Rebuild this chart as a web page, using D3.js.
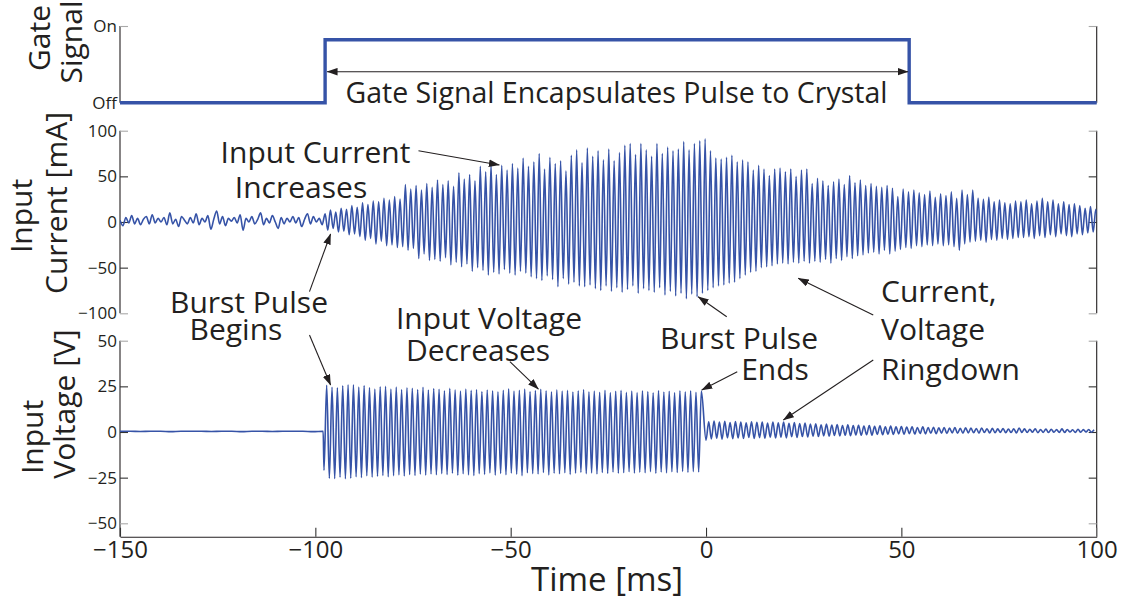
<!DOCTYPE html>
<html>
<head>
<meta charset="utf-8">
<script src="https://cdn.jsdelivr.net/npm/d3@7"></script>
<style>
  body { margin: 0; background: #fff; }
  svg text { font-family: "Open Sans", "DejaVu Sans", sans-serif; fill: #231f20; }
</style>
</head>
<body>
<svg id="chart" width="1130" height="602"></svg>
<script>
// ---------------- data ----------------
const timeTicks = [-150, -100, -50, 0, 50, 100];
const gateTicks = [0, 1];
const gateTickLabels = ["Off", "On"];
const currentTicks = [-100, -50, 0, 50, 100];
const voltageTicks = [-50, -25, 0, 25, 50];

// gate signal (0 = off, 1 = on)
const gateTimes  = [-150, -97.5, -97.5, 52, 52, 100];
const gateLevels = [0, 0, 0.82, 0.82, 0, 0];

// drive / ringdown period in ms
const carrierPeriod = 1.37;

// input current, mA: idle noise sampled every 0.75 ms
const currentNoiseStart = -150;
const currentNoiseStep = 0.75;
const currentNoise = [
  2, -4, 5, -1, 7, -2, 4, -3, 3, 6,
  -2, 8, -1, 4, 0, 5, -3, 10, -2, 3,
  -5, 6, 2, -2, 5, -1, 9, -3, 4, 0,
  7, -8, 3, 12, -2, 6, -4, 4, 1, 5,
  -1, 8, -9, 4, 0, 6, -2, 3, 10, -3,
  4, -1, 7, 0, -7, 5, -2, 4, 0, 6,
  -1, 5, -5, 3, 9, -2, 6, 0, 4, -3
];
// input current, mA: per-cycle maxima and minima from burst start
const currentBurstStart = -97.5;
const currentPeaks = [
  9, 13, 11, 15, 14, 18, 16, 21, 19, 23,
  22, 26, 24, 28, 25, 41, 36, 40, 35, 42,
  38, 46, 41, 45, 39, 54, 47, 52, 45, 61,
  55, 63, 52, 62, 57, 64, 59, 70, 61, 66,
  75, 58, 71, 64, 67, 56, 73, 79, 65, 81,
  72, 78, 68, 80, 67, 76, 84, 86, 74, 86,
  79, 72, 86, 75, 82, 78, 80, 88, 79, 86,
  89, 91, 78, 70, 69, 71, 73, 66, 68, 66,
  57, 62, 58, 51, 58, 59, 55, 58, 50, 57,
  58, 42, 48, 45, 40, 44, 47, 41, 51, 43,
  46, 40, 42, 39, 38, 40, 37, 28, 36, 33,
  35, 32, 30, 34, 27, 31, 29, 33, 26, 35,
  30, 35, 26, 25, 27, 22, 24, 21, 20, 23,
  22, 24, 20, 23, 26, 22, 24, 20, 22, 19,
  20, 18, 15, 17, 14
];
const currentTroughs = [
  -9, -7, -11, -10, -14, -13, -16, -20, -18, -24,
  -21, -26, -25, -28, -27, -31, -29, -40, -35, -42,
  -41, -43, -39, -47, -44, -49, -46, -54, -50, -53,
  -58, -55, -57, -52, -56, -58, -54, -56, -60, -62,
  -64, -59, -63, -71, -62, -68, -66, -70, -71, -69,
  -73, -75, -70, -76, -72, -77, -74, -70, -78, -73,
  -75, -77, -72, -80, -76, -81, -78, -84, -79, -82,
  -78, -75, -72, -70, -69, -67, -66, -62, -58, -55,
  -54, -50, -49, -48, -46, -45, -46, -44, -45, -43,
  -45, -43, -44, -41, -45, -40, -42, -38, -40, -37,
  -36, -34, -33, -35, -31, -35, -32, -30, -28, -29,
  -26, -27, -25, -26, -24, -26, -25, -27, -31, -24,
  -22, -21, -20, -22, -19, -20, -18, -19, -18, -17,
  -17, -16, -18, -15, -17, -14, -16, -13, -15, -16,
  -13, -14, -12, -11, -10
];

// input voltage, V: idle level sampled every 2.6 ms
const voltageIdleStart = -150;
const voltageIdleStep = 2.6;
const voltageIdle = [
  0.4, 0.4, 0.3, 0.4, 0.4, 0.2, 0.4, 0.4, 0.4, 0.3,
  0.4, 0.4, 0.2, 0.4, 0.4, 0.3, 0.4, 0.4, 0.4, 0.2, 0.4
];
// input voltage, V: per-cycle maxima / minima during the burst
const voltageBurstStart = -97.1;
const voltagePeaks = [
  25.6, 24.5, 24.2, 25.3, 25.8, 25.8, 24.6, 25.5, 24.3, 23.5,
  24.8, 25.0, 23.5, 24.6, 23.2, 24.2, 24.0, 23.3, 24.5, 23.0,
  23.8, 23.4, 22.6, 23.9, 23.1, 22.4, 23.5, 22.8, 23.2, 22.2,
  23.0, 22.5, 22.0, 22.9, 23.6, 22.4, 22.9, 23.5, 22.1, 22.7,
  23.4, 22.6, 22.0, 23.1, 22.4, 22.8, 21.9, 22.6, 23.2, 22.0,
  22.4, 21.8, 22.9, 21.6, 22.3, 22.8, 21.7, 22.4, 21.6, 22.5,
  22.1, 21.5, 22.7, 21.9, 22.3, 21.6, 22.6, 22.0, 22.6, 21.8, 22.4
];
const voltageTroughs = [
  -21.0, -25.4, -25.5, -24.8, -25.6, -25.3, -24.5, -24.9, -24.0, -24.7,
  -24.3, -23.8, -24.5, -23.9, -23.5, -24.1, -23.3, -23.8, -23.1, -23.6,
  -23.0, -23.4, -22.8, -23.3, -22.6, -23.7, -22.9, -23.5, -23.8, -22.8,
  -23.2, -22.4, -23.6, -22.7, -23.4, -22.5, -23.1, -23.9, -22.3, -22.8,
  -23.0, -22.2, -23.5, -22.6, -22.9, -22.3, -23.2, -22.5, -22.1, -22.8,
  -22.4, -23.0, -22.2, -22.7, -21.9, -22.6, -22.3, -21.8, -22.5, -22.0,
  -22.3, -21.7, -22.6, -21.9, -22.4, -21.8, -22.2, -21.6, -22.1, -21.7, -21.9
];
// input voltage, V: per-cycle maxima / minima after the burst ends
const ringdownStart = 0.0;
const ringdownPeaks = [
  5.6, 6.0, 5.4, 5.8, 5.2, 5.7, 5.5, 5.0, 5.6, 5.3,
  5.4, 4.9, 5.5, 5.1, 5.4, 4.8, 5.2, 4.6, 4.9, 4.3,
  4.5, 4.0, 4.3, 3.8, 4.1, 3.6, 3.9, 3.5, 3.7, 3.3,
  3.6, 3.1, 3.4, 2.9, 3.2, 2.8, 3.0, 2.7, 2.9, 2.5,
  2.8, 2.4, 2.6, 2.3, 2.5, 2.1, 2.4, 2.0, 2.3, 2.1,
  1.9, 2.2, 1.8, 2.0, 1.7, 1.9, 1.6, 1.8, 2.2, 1.7,
  1.5, 1.8, 1.4, 1.6, 1.5, 1.3, 1.7, 1.4, 1.2, 1.5, 1.3, 1.4, 1.2
];
const ringdownTroughs = [
  -4.5, -3.8, -3.4, -3.9, -3.2, -3.7, -3.3, -3.6, -3.0, -3.5,
  -3.1, -3.4, -2.9, -3.3, -2.8, -3.2, -2.6, -3.0, -2.5, -2.7,
  -2.3, -2.5, -2.1, -2.3, -1.9, -2.1, -1.8, -2.0, -1.6, -1.8,
  -1.5, -1.7, -1.3, -1.5, -1.2, -1.3, -1.0, -1.2, -0.9, -1.1,
  -0.8, -1.0, -0.7, -0.9, -0.6, -0.8, -0.5, -0.7, -0.6, -0.5,
  -0.4, -0.6, -0.3, -0.5, -0.4, -0.2, -0.4, -0.3, -0.5, -0.2,
  -0.3, -0.1, -0.4, -0.2, -0.3, -0.1, -0.2, -0.3, 0.0, -0.2, -0.1, 0.0, -0.1
];

// annotation arrows, [time ms, value] tail -> head
const currentArrows = [
  [[-73.6, 78.1], [-52.9, 62.4]],
  [[-101.5, -76.3], [-96.1, -13.1]],
  [[5.3, -103.7], [-2.0, -81.8]],
  [[42.8, -101.9], [23.6, -61.7]]
];
const voltageArrows = [
  [[-101.5, 53.1], [-96.1, 25.7]],
  [[-50.2, 38.5], [-42.9, 23.5]],
  [[8.0, 33.0], [-1.1, 23.0]],
  [[42.8, 39.4], [19.8, 6.6]]
];
const gateSpan = [-97.0, 51.7, 0.404];

// ---------------- layout ----------------
const W = 1130, H = 602;
const plotLeft = 120, plotRight = 1096.7;
const gateBox = [26, 102.7];
const currentBox = [130.7, 313.3];
const voltageBox = [340.7, 523.3];
const xAxisY = 536.7;
const traceColor = "#3653a7";
const ink = "#231f20";

const svg = d3.select("#chart");

const x = d3.scaleLinear().domain([-150, 100]).range([plotLeft, plotRight]);
const yGate = d3.scaleLinear().domain([0, 1]).range([gateBox[1], gateBox[0]]);
const yCur = d3.scaleLinear().domain([-100, 100]).range([currentBox[1], currentBox[0]]);
const yVolt = d3.scaleLinear().domain([-50, 50]).range([voltageBox[1], voltageBox[0]]);

// arrowhead marker
const defs = svg.append("defs");
defs.append("marker")
  .attr("id", "head")
  .attr("viewBox", "0 -4 11 8")
  .attr("refX", 10.5).attr("refY", 0)
  .attr("markerUnits", "userSpaceOnUse")
  .attr("markerWidth", 11).attr("markerHeight", 8)
  .attr("orient", "auto-start-reverse")
  .append("path").attr("d", "M0,-3.8L11,0L0,3.8Z").attr("fill", ink);

defs.append("clipPath").attr("id", "plotClip")
  .append("rect").attr("x", plotLeft).attr("y", 0)
  .attr("width", plotRight - plotLeft).attr("height", H);

// ---------------- axes ----------------
function drawPanelAxes(y, ticks, fmt, bottom) {
  const top = y.range()[1];
  const g = svg.append("g");
  // frame lines (left and right)
  [plotLeft, plotRight].forEach(px => {
    g.append("line").attr("x1", px).attr("x2", px)
      .attr("y1", top).attr("y2", bottom)
      .attr("stroke", ink).attr("stroke-width", 1.1);
  });
  const ends = d3.extent(ticks);
  const left = g.append("g").attr("transform", `translate(${plotLeft},0)`)
    .call(d3.axisLeft(y).tickValues(ticks).tickSize(-8).tickPadding(3).tickFormat(fmt));
  const right = g.append("g").attr("transform", `translate(${plotRight},0)`)
    .call(d3.axisRight(y).tickValues(ticks).tickSize(-8).tickFormat(""));
  [left, right].forEach(a => {
    a.select(".domain").remove();
    a.selectAll(".tick line")
      .attr("stroke", d => (d === ends[0] || d === ends[1]) ? "#a9a9a9" : "#333")
      .attr("stroke-width", 1.1);
  });
  left.selectAll(".tick text")
    .style("font-family", '"Open Sans", sans-serif')
    .style("font-size", "17px").attr("fill", ink);
}

drawPanelAxes(yGate, gateTicks, d => gateTickLabels[d], gateBox[1]);
drawPanelAxes(yCur, currentTicks, d3.format("d"), currentBox[1]);
drawPanelAxes(yVolt, voltageTicks, d3.format("d"), xAxisY);

const xa = svg.append("g").attr("transform", `translate(0,${xAxisY})`)
  .call(d3.axisBottom(x).tickValues(timeTicks).tickSize(-9).tickSizeOuter(0).tickPadding(4.6).tickFormat(d3.format("d")));
xa.select(".domain").attr("stroke", ink).attr("stroke-width", 1.1);
xa.selectAll(".tick line").attr("stroke", d => d === 100 ? "#a9a9a9" : "#333").attr("stroke-width", 1.1);
xa.selectAll(".tick text")
  .style("font-family", '"Open Sans", sans-serif')
  .style("font-size", "24px").attr("fill", ink);

// ---------------- traces ----------------
const traces = svg.append("g").attr("clip-path", "url(#plotClip)");

const currentSeries = [];
currentNoise.forEach((v, i) => currentSeries.push([currentNoiseStart + i * currentNoiseStep, v]));
currentPeaks.forEach((p, k) => {
  currentSeries.push([currentBurstStart + k * carrierPeriod, p]);
  currentSeries.push([currentBurstStart + (k + 0.5) * carrierPeriod, currentTroughs[k]]);
});

const voltageSeries = [];
voltageIdle.forEach((v, i) => voltageSeries.push([voltageIdleStart + i * voltageIdleStep, v]));
voltagePeaks.forEach((p, k) => {
  voltageSeries.push([voltageBurstStart + (k - 0.5) * carrierPeriod, voltageTroughs[k]]);
  voltageSeries.push([voltageBurstStart + k * carrierPeriod, p]);
});
ringdownPeaks.forEach((p, k) => {
  voltageSeries.push([ringdownStart + k * carrierPeriod, ringdownTroughs[k]]);
  voltageSeries.push([ringdownStart + (k + 0.5) * carrierPeriod, p]);
});

const gateSeries = gateTimes.map((t, i) => [t, gateLevels[i]]);

traces.append("path").datum(currentSeries)
  .attr("fill", "none").attr("stroke", traceColor).attr("stroke-width", 1.6)
  .attr("stroke-linejoin", "round")
  .attr("d", d3.line().x(d => x(d[0])).y(d => yCur(d[1])).curve(d3.curveMonotoneX));

traces.append("path").datum(voltageSeries)
  .attr("fill", "none").attr("stroke", traceColor).attr("stroke-width", 1.6)
  .attr("stroke-linejoin", "round")
  .attr("d", d3.line().x(d => x(d[0])).y(d => yVolt(d[1])).curve(d3.curveMonotoneX));

svg.append("path").datum(gateSeries)
  .attr("fill", "none").attr("stroke", traceColor).attr("stroke-width", 3.4)
  .attr("stroke-linejoin", "miter")
  .attr("d", d3.line().x(d => x(d[0])).y(d => yGate(d[1])));

// ---------------- annotations ----------------
const ann = svg.append("g");
function arrow(y, a) {
  ann.append("line")
    .attr("x1", x(a[0][0])).attr("y1", y(a[0][1]))
    .attr("x2", x(a[1][0])).attr("y2", y(a[1][1]))
    .attr("stroke", ink).attr("stroke-width", 1.1)
    .attr("marker-end", "url(#head)");
}
currentArrows.forEach(a => arrow(yCur, a));
voltageArrows.forEach(a => arrow(yVolt, a));
ann.append("line")
  .attr("x1", x(gateSpan[0])).attr("x2", x(gateSpan[1]))
  .attr("y1", yGate(gateSpan[2])).attr("y2", yGate(gateSpan[2]))
  .attr("stroke", ink).attr("stroke-width", 1.1)
  .attr("marker-start", "url(#head)").attr("marker-end", "url(#head)");

// multi-line note: one text element, one tspan per line [text, x, baseline]
function note(lines, size, anchor) {
  const t = ann.append("text")
    .attr("text-anchor", anchor || "middle")
    .style("font-size", size + "px");
  lines.forEach(l => t.append("tspan").attr("x", l[1]).attr("y", l[2]).text(l[0]));
}
note([["Gate Signal Encapsulates Pulse to Crystal", 616.5, 103]], 28.5);
note([["Input Current", 315.5, 163.3], ["Increases", 301, 198.3]], 30);
note([["Burst Pulse", 249, 313], ["Begins", 236, 340]], 30);
note([["Input Voltage", 489, 329.3], ["Decreases", 478, 360.7]], 30);
note([["Burst Pulse", 739, 349.3], ["Ends", 775, 380]], 30);
note([["Current,", 881, 301.7], ["Voltage", 881, 340], ["Ringdown", 881, 380]], 30, "start");

// axis titles
function vlabel(txt, bx, cy) {
  ann.append("text").attr("transform", `translate(${bx},${cy}) rotate(-90)`)
    .attr("text-anchor", "middle").style("font-size", "30px").text(txt);
}
vlabel("Gate", 50, 38);
vlabel("Signal", 82, 42);
vlabel("Input", 32, 216);
vlabel("Current [mA]", 67, 203);
vlabel("Input", 43, 437);
vlabel("Voltage [V]", 75, 404);

note([["Time [ms]", 607, 591]], 33);
</script>
</body>
</html>
